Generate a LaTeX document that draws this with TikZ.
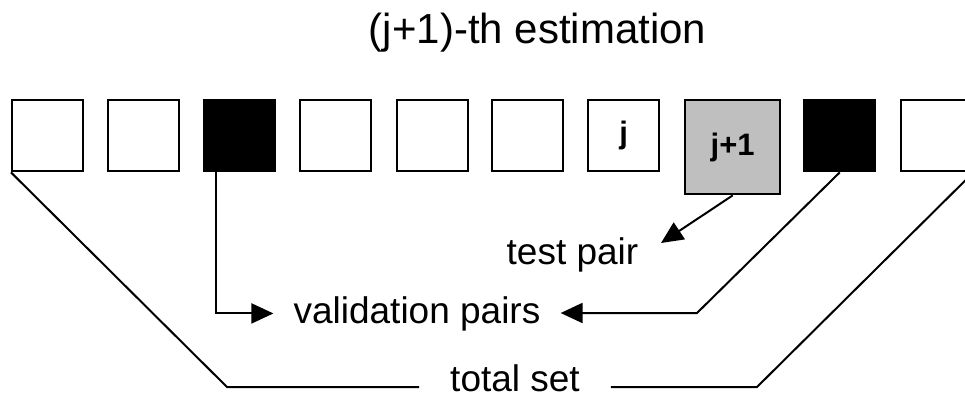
\documentclass[tikz,border=0pt]{standalone}
\usepackage{fontspec}
\setmainfont{Liberation Sans}
\usetikzlibrary{arrows.meta}
\begin{document}
\begin{tikzpicture}[x=1pt,y=-1pt,
  cell/.style={draw, line width=2.4pt, fill=white, minimum width=71pt, minimum height=71pt,
    inner sep=0pt, anchor=north west, font=\fontsize{31}{31}\selectfont\bfseries},
  dark/.style={cell, fill=black},
  pick/.style={cell, fill=gray!50, minimum width=95pt, minimum height=94pt},
  lbl/.style={font=\fontsize{37}{37}\selectfont, anchor=base, inner ysep=0pt},
  conn/.style={line width=2pt},
  arr/.style={-{Triangle[length=22pt,width=20pt]}}]
\clip (0,0) rectangle (965,399);
\node[font=\fontsize{42}{42}\selectfont, anchor=base] (title) at (537.5,43) {(j+1)-th estimation};
\node[cell] (b1) at (11,99) {};
\node[cell] (b2) at (107,99) {};
\node[dark] (b3) at (203,99) {};
\node[cell] (b4) at (299,99) {};
\node[cell] (b5) at (396,99) {};
\node[cell] (b6) at (491,99) {};
\node[cell] (b7) at (587,99) {j};
\node[pick] (b8) at (684,99) {j+1};
\node[dark] (b9) at (803,99) {};
\node[cell] (b10) at (900,99) {};
\node[lbl] (test) at (572.5,264) {test pair};
\node[lbl, inner xsep=20pt] (val) at (417,323) {validation pairs};
\node[lbl, inner xsep=31pt] (tot) at (515,391) {total set};
\coordinate (vl) at ([xshift=13pt]b3.south west);
\coordinate (vr) at (697,313);
\coordinate (ttip) at (661,243);
\coordinate (tl) at (227,387);
\coordinate (tr) at (757,387);
\draw[conn,arr] (b8.south) -- (ttip);
\draw[conn,arr] (vl) |- (val.west);
\draw[conn,arr] (b9.south) -- (vr) -- (val.east |- vr);
\draw[conn] (b1.south west) -- (tl) -- (tot.west |- tl);
\draw[conn] (tot.east |- tr) -- (tr) -- (b10.south east);
\end{tikzpicture}
\end{document}
